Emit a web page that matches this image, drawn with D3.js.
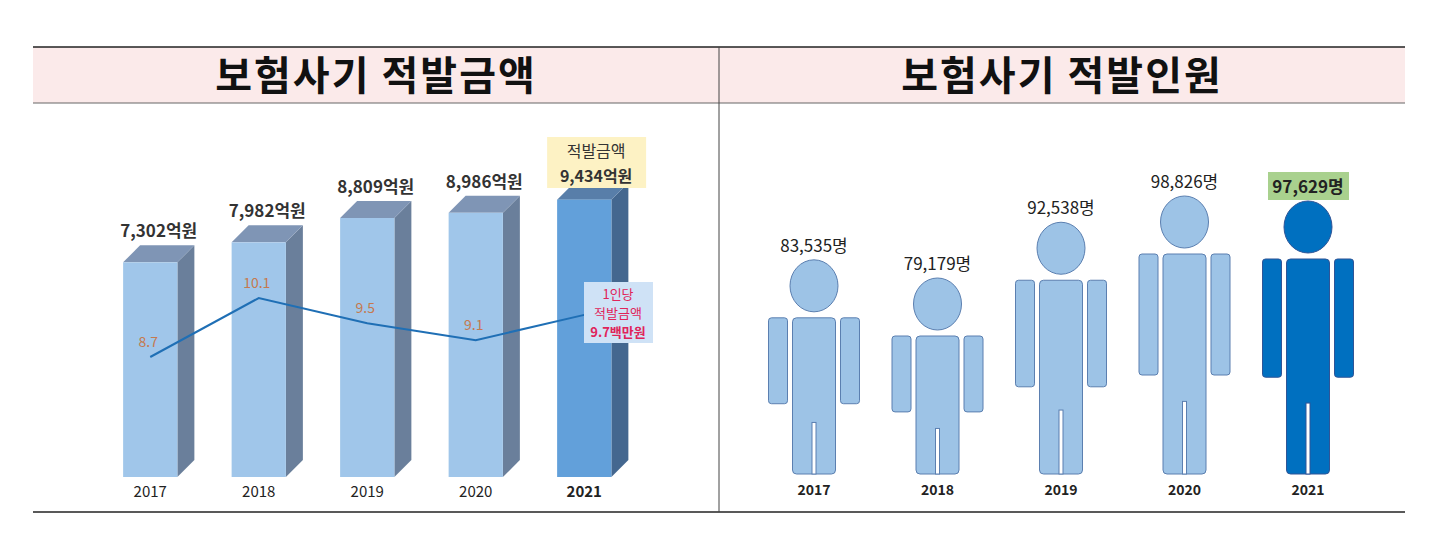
<!DOCTYPE html>
<html><head><meta charset="utf-8">
<script src="https://cdn.jsdelivr.net/npm/d3@7"></script>
<style>body{margin:0;background:#fff}text{font-family:"Noto Sans CJK KR","Noto Sans",sans-serif}</style>
</head><body>
<script>
const years = ["2017", "2018", "2019", "2020", "2021"];
const amounts = [7302, 7982, 8809, 8986, 9434];
const amountLabels = ["7,302억원", "7,982억원", "8,809억원", "8,986억원", "9,434억원"];
const perPerson = [8.7, 10.1, 9.5, 9.1, 9.7];
const people = [83535, 79179, 92538, 98826, 97629];
const peopleLabels = ["83,535명", "79,179명", "92,538명", "98,826명", "97,629명"];

const svg = d3.select("body").append("svg").attr("width", 1433).attr("height", 545);

// header
svg.append("rect").attr("x", 33).attr("y", 47).attr("width", 1372).attr("height", 56).attr("fill", "#fbeaea");
svg.append("line").attr("x1", 33).attr("x2", 1405).attr("y1", 47).attr("y2", 47).attr("stroke", "#222").attr("stroke-width", 1.5);
svg.append("line").attr("x1", 33).attr("x2", 1405).attr("y1", 103).attr("y2", 103).attr("stroke", "#666").attr("stroke-width", 1);
svg.append("line").attr("x1", 33).attr("x2", 1405).attr("y1", 512).attr("y2", 512).attr("stroke", "#222").attr("stroke-width", 1.5);
svg.append("line").attr("x1", 719).attr("x2", 719).attr("y1", 47).attr("y2", 512).attr("stroke", "#444").attr("stroke-width", 1);
[["보험사기 적발금액", 376], ["보험사기 적발인원", 1062]].forEach(([t, x]) => {
  svg.append("text").attr("x", x).attr("y", 90).attr("text-anchor", "middle")
    .attr("font-size", 40).attr("font-weight", 700).attr("letter-spacing", 2).attr("fill", "#111").text(t);
});

// left: 3D bars
const x = d3.scaleBand().domain(years).range([96, 638.5]).paddingInner(0.5).paddingOuter(0.25);
const y = d3.scaleLinear().domain([0, 10000]).range([477, 183]);
const D = 17;
years.forEach((yr, i) => {
  const x0 = x(yr), w = x.bandwidth(), top = y(amounts[i]), bot = y(0);
  const last = i === 4;
  svg.append("path").attr("d", `M${x0 + w},${top}L${x0 + w + D},${top - D}L${x0 + w + D},${bot - D}L${x0 + w},${bot}Z`)
    .attr("fill", last ? "#44678f" : "#6a7f9b");
  svg.append("path").attr("d", `M${x0},${top}L${x0 + D},${top - D}L${x0 + w + D},${top - D}L${x0 + w},${top}Z`)
    .attr("fill", last ? "#587ea9" : "#7f95b5");
  svg.append("rect").attr("x", x0).attr("y", top).attr("width", w).attr("height", bot - top)
    .attr("fill", last ? "#62a0da" : "#a0c6ea");
  svg.append("text").attr("x", x0 + w / 2).attr("y", 497).attr("text-anchor", "middle")
    .attr("font-size", 15).attr("font-weight", last ? 700 : 400).attr("fill", "#222").text(yr);
  if (!last) {
    svg.append("text").attr("x", x0 + (w + D) / 2).attr("y", top - D - 8).attr("text-anchor", "middle")
      .attr("font-size", 17).attr("font-weight", 700).attr("fill", "#333").text(amountLabels[i]);
  } else {
    svg.append("rect").attr("x", x0 - 10).attr("y", 137).attr("width", 99).attr("height", 51).attr("fill", "#fdf2c4");
    svg.append("text").attr("x", x0 + 39).attr("y", 157).attr("text-anchor", "middle")
      .attr("font-size", 16).attr("fill", "#333").text("적발금액");
    svg.append("text").attr("x", x0 + 39).attr("y", 182).attr("text-anchor", "middle")
      .attr("font-size", 16).attr("font-weight", 700).attr("fill", "#333").text(amountLabels[i]);
  }
});

// line: amount per person
const yl = d3.scaleLinear().domain([8.7, 10.1]).range([357, 298]);
const cx = yr => x(yr) + x.bandwidth() / 2;
svg.append("path").datum(perPerson)
  .attr("d", d3.line().x((d, i) => cx(years[i])).y(d => yl(d)))
  .attr("fill", "none").attr("stroke", "#1f6fb5").attr("stroke-width", 2);
perPerson.slice(0, 4).forEach((v, i) => {
  svg.append("text").attr("x", cx(years[i]) - 2).attr("y", yl(v) - 10).attr("text-anchor", "middle")
    .attr("font-size", 14).attr("fill", "#c5794f").text(v);
});
svg.append("rect").attr("x", 584).attr("y", 282).attr("width", 69).attr("height", 61).attr("fill", "#cfe2f6");
[["1인당", 400, 299], ["적발금액", 400, 318], [perPerson[4] + "백만원", 700, 337]].forEach(([t, fw, ty]) => {
  svg.append("text").attr("x", 618).attr("y", ty).attr("text-anchor", "middle")
    .attr("font-size", 13).attr("font-weight", fw).attr("fill", "#e0245a").text(t);
});

// right: person figures
const px = d3.scalePoint().domain(years).range([814, 1308]);
const torso = d3.scaleLinear().domain([79179, 98826]).range([138, 220]);
const FOOT = 474, HEAD_H = 52, HEAD_W = 48, TW = 43, AW = 19, GAP = 5;
years.forEach((yr, i) => {
  const c = px(yr), th = torso(people[i]), tTop = FOOT - th, last = i === 4;
  const fill = last ? "#0070c0" : "#9dc3e6", stroke = last ? "#2f5597" : "#5b7fb0";
  const g = svg.append("g").attr("fill", fill).attr("stroke", stroke).attr("stroke-width", 1);
  g.append("ellipse").attr("cx", c).attr("cy", tTop - 6 - HEAD_H / 2).attr("rx", HEAD_W / 2).attr("ry", HEAD_H / 2);
  g.append("rect").attr("x", c - TW / 2).attr("y", tTop).attr("width", TW).attr("height", th).attr("rx", 4);
  const armH = th * 0.55;
  g.append("rect").attr("x", c - TW / 2 - GAP - AW).attr("y", tTop).attr("width", AW).attr("height", armH).attr("rx", 3);
  g.append("rect").attr("x", c + TW / 2 + GAP).attr("y", tTop).attr("width", AW).attr("height", armH).attr("rx", 3);
  const legH = th * 0.33;
  g.append("rect").attr("x", c - 2).attr("y", FOOT - legH).attr("width", 4).attr("height", legH)
    .attr("fill", "#fff");
  const ly = tTop - 6 - HEAD_H - 8;
  if (last) {
    svg.append("rect").attr("x", c - 40).attr("y", ly - 21).attr("width", 81).attr("height", 28).attr("fill", "#a9d18e");
    svg.append("text").attr("x", c).attr("y", ly).attr("text-anchor", "middle")
      .attr("font-size", 17).attr("font-weight", 700).attr("fill", "#222").text(peopleLabels[i]);
  } else {
    svg.append("text").attr("x", c).attr("y", ly).attr("text-anchor", "middle")
      .attr("font-size", 17).attr("fill", "#222").text(peopleLabels[i]);
  }
  svg.append("text").attr("x", c).attr("y", 495).attr("text-anchor", "middle")
    .attr("font-size", 14).attr("font-weight", 700).attr("fill", "#222").text(yr);
});
</script>
</body></html>
